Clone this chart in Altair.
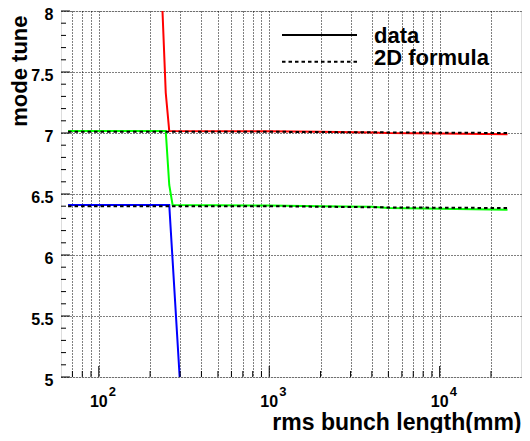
import altair as alt
import pandas as pd

# ---- data ----
red_x = [228, 247, 259, 1000, 2000, 4000, 5000, 10000, 25000]
red_y = [8.55, 7.33, 7.016, 7.015, 7.01, 7.005, 7.0, 6.995, 6.99]
green_x = [66, 247, 259, 271, 1000, 2000, 4000, 5000, 10000, 25000]
green_y = [7.016, 7.016, 6.574, 6.41, 6.405, 6.40, 6.395, 6.385, 6.38, 6.37]
blue_x = [66, 259, 310]
blue_y = [6.41, 6.41, 4.61]

formula_hi_x = [66, 1000, 5000, 25000]
formula_hi_y = [7.01, 7.01, 7.005, 7.0]
formula_lo_x = [66, 1000, 5000, 25000]
formula_lo_y = [6.40, 6.40, 6.39, 6.385]

legend_labels = ["data", "2D formula"]

x_grid = [70, 80, 90, 100, 200, 300, 400, 500, 600, 700, 800, 900,
          1000, 2000, 3000, 4000, 5000, 6000, 7000, 8000, 9000, 10000, 20000]
x_major = [100, 1000, 10000]
x_label_base = ["10", "10", "10"]
x_label_exp = ["2", "3", "4"]
y_major = [5, 5.5, 6, 6.5, 7, 7.5, 8]
y_minor = [round(5 + 0.1 * i, 1) for i in range(31) if i % 5 != 0]

FONT = "Liberation Sans"
W, H = 460, 366
DASH = [3.5, 3]

rows = []
for name, xs, ys in [("red", red_x, red_y), ("green", green_x, green_y), ("blue", blue_x, blue_y)]:
    for i, (a, b) in enumerate(zip(xs, ys)):
        rows.append({"x": a, "y": b, "series": name, "i": i})
data_df = pd.DataFrame(rows)

frows = []
for name, xs, ys in [("hi", formula_hi_x, formula_hi_y), ("lo", formula_lo_x, formula_lo_y)]:
    for i, (a, b) in enumerate(zip(xs, ys)):
        frows.append({"x": a, "y": b, "branch": name, "i": i})
form_df = pd.DataFrame(frows)

xscale = alt.Scale(type="log", domain=[60, 30000], nice=False)
yscale = alt.Scale(domain=[5, 8], nice=False)

xaxis = alt.Axis(values=x_grid, grid=True, labels=False, ticks=False, domain=False,
                 gridDash=[1, 2], gridColor="black", gridWidth=1,
                 title="rms bunch length(mm)", titleFont=FONT, titleFontSize=23,
                 titleFontWeight="bold", titleAlign="right", titleBaseline="alphabetic",
                 titleX=W, titleY=52, titleColor="black")
yaxis = alt.Axis(values=y_major, grid=True, ticks=False, domain=False, format="~g",
                 gridDash=[1, 2], gridColor="black", gridWidth=1,
                 labelFont=FONT, labelFontSize=16, labelFontWeight="bold", labelColor="black",
                 labelPadding=8, labelOffset=3.5, labelBaseline="middle",
                 title="mode tune", titleFont=FONT, titleFontSize=22, titleFontWeight="bold",
                 titleAngle=270, titleAlign="right", titleBaseline="alphabetic",
                 titleX=-35, titleY=4, titleColor="black")

data_lines = alt.Chart(data_df).mark_line(strokeWidth=2, clip=True).encode(
    x=alt.X("x:Q", scale=xscale, axis=xaxis),
    y=alt.Y("y:Q", scale=yscale, axis=yaxis),
    color=alt.Color("series:N", scale=alt.Scale(domain=["red", "green", "blue"],
                                                range=["#ff0000", "#00ff00", "#0000ff"]),
                    legend=None),
    order="i:Q",
)

form_lines = alt.Chart(form_df).mark_line(strokeWidth=2, clip=True, color="black",
                                          strokeDash=DASH).encode(
    x=alt.X("x:Q", scale=xscale),
    y=alt.Y("y:Q", scale=yscale),
    detail="branch:N",
    order="i:Q",
)

ymin_df = pd.DataFrame({"y": y_minor})
ymaj_df = pd.DataFrame({"y": y_major})
xmin_df = pd.DataFrame({"x": [v for v in x_grid if v not in x_major]})
xmaj_df = pd.DataFrame({"x": x_major})

ytick_minor = alt.Chart(ymin_df).mark_rule(color="black", strokeWidth=1).encode(
    y=alt.Y("y:Q", scale=yscale), x=alt.value(0), x2=alt.value(5))
ytick_major = alt.Chart(ymaj_df).mark_rule(color="black", strokeWidth=1).encode(
    y=alt.Y("y:Q", scale=yscale), x=alt.value(0), x2=alt.value(9))
xtick_minor = alt.Chart(xmin_df).mark_rule(color="black", strokeWidth=1).encode(
    x=alt.X("x:Q", scale=xscale), y=alt.value(H), y2=alt.value(H - 6))
xtick_major = alt.Chart(xmaj_df).mark_rule(color="black", strokeWidth=1).encode(
    x=alt.X("x:Q", scale=xscale), y=alt.value(H), y2=alt.value(H - 11))

lab_df = pd.DataFrame({"x": x_major, "base": x_label_base, "exp": x_label_exp})
lab_base = alt.Chart(lab_df).mark_text(font=FONT, fontSize=16, fontWeight="bold",
                                       align="center", baseline="alphabetic", color="black").encode(
    x=alt.X("x:Q", scale=xscale), y=alt.value(H + 30), text="base:N")
lab_exp = alt.Chart(lab_df).mark_text(font=FONT, fontSize=13, fontWeight="bold",
                                      align="left", baseline="alphabetic", dx=10, color="black").encode(
    x=alt.X("x:Q", scale=xscale), y=alt.value(H + 19), text="exp:N")

# legend (drawn as marks, inside the frame, top right)
LX = W - 239
leg_df = pd.DataFrame({"label": legend_labels})
leg_line_data = alt.Chart(leg_df).transform_filter(alt.datum.label == "data").mark_rule(
    color="black", strokeWidth=2).encode(x=alt.value(LX), x2=alt.value(LX + 75), y=alt.value(24))
leg_line_form = alt.Chart(leg_df).transform_filter(alt.datum.label == "2D formula").mark_rule(
    color="black", strokeWidth=2, strokeDash=DASH).encode(
    x=alt.value(LX), x2=alt.value(LX + 75), y=alt.value(50.7))
leg_text_data = alt.Chart(leg_df).transform_filter(alt.datum.label == "data").mark_text(
    font=FONT, fontSize=22, fontWeight="bold", align="left", baseline="alphabetic",
    color="black").encode(x=alt.value(LX + 92), y=alt.value(32), text="label:N")
leg_text_form = alt.Chart(leg_df).transform_filter(alt.datum.label == "2D formula").mark_text(
    font=FONT, fontSize=22, fontWeight="bold", align="left", baseline="alphabetic",
    color="black").encode(x=alt.value(LX + 92), y=alt.value(54), text="label:N")

chart = alt.layer(
    data_lines, form_lines, ytick_minor, ytick_major, xtick_minor, xtick_major,
    lab_base, lab_exp, leg_line_data, leg_line_form, leg_text_data, leg_text_form
).properties(
    width=W, height=H,
    autosize=alt.AutoSizeParams(type="none"),
    padding={"left": 53, "top": 3, "right": 1, "bottom": 56},
).configure_view(
    stroke="black", strokeWidth=2
).configure(background="white")

chart.save("out.html", embed_options={"renderer": "svg", "actions": False})
